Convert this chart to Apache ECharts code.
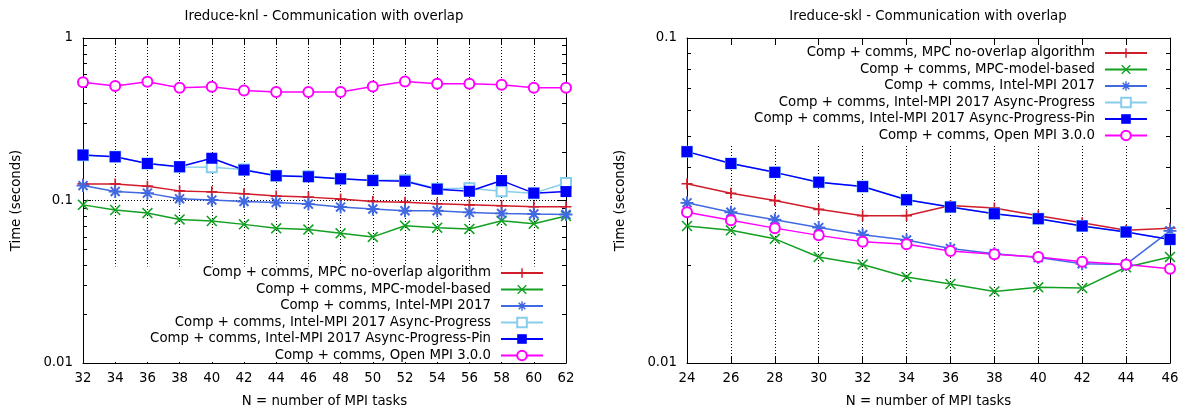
<!DOCTYPE html>
<html>
<head>
<meta charset="utf-8">
<script src="https://cdn.jsdelivr.net/npm/echarts@6/dist/echarts.min.js"></script>
<style>
  html, body { margin: 0; padding: 0; background: #fff; }
  #chart { width: 1199px; height: 413px; }
</style>
</head>
<body>
<div id="chart"></div>
<script>
// knl data (left)
const knlN = [32, 34, 36, 38, 40, 42, 44, 46, 48, 50, 52, 54, 56, 58, 60, 62];
const knlNoOverlap = [0.1265, 0.1265, 0.1225, 0.1146, 0.113, 0.110, 0.1064, 0.1049, 0.102, 0.0987, 0.0977, 0.0955, 0.094, 0.0928, 0.0915, 0.0915];
const knlModel = [0.094, 0.0874, 0.0837, 0.0765, 0.0748, 0.0713, 0.0674, 0.0662, 0.0628, 0.0597, 0.070, 0.068, 0.0668, 0.0751, 0.072, 0.0803];
const knlIntel = [0.1235, 0.1135, 0.111, 0.1024, 0.1006, 0.0986, 0.0972, 0.095, 0.0911, 0.0886, 0.0865, 0.0865, 0.0845, 0.0833, 0.0826, 0.0821];
const knlAsync = [0.19, 0.186, 0.169, 0.161, 0.160, 0.155, 0.142, 0.141, 0.136, 0.133, 0.133, 0.118, 0.119, 0.114, 0.111, 0.128];
const knlAsyncPin = [0.1905, 0.186, 0.169, 0.1615, 0.182, 0.154, 0.142, 0.140, 0.136, 0.1326, 0.1315, 0.1174, 0.114, 0.1326, 0.111, 0.1135];
const knlOpenMpi = [0.535, 0.506, 0.538, 0.494, 0.501, 0.476, 0.465, 0.465, 0.465, 0.503, 0.540, 0.523, 0.523, 0.515, 0.494, 0.494];

// skl data (right)
const sklN = [24, 26, 28, 30, 32, 34, 36, 38, 40, 42, 44, 46];
const sklNoOverlap = [0.0356, 0.0333, 0.0316, 0.0297, 0.0284, 0.0284, 0.0305, 0.030, 0.0284, 0.027, 0.0256, 0.026];
const sklModel = [0.0264, 0.0256, 0.0241, 0.0212, 0.0201, 0.0184, 0.0175, 0.0166, 0.0171, 0.017, 0.0197, 0.0212];
const sklIntel = [0.0311, 0.0291, 0.0276, 0.0261, 0.0248, 0.0239, 0.0225, 0.0217, 0.0211, 0.0202, 0.0201, 0.0255];
const sklAsync = [0.0447, 0.0411, 0.0386, 0.036, 0.0349, 0.0318, 0.0302, 0.0288, 0.0278, 0.0264, 0.0253, 0.024];
const sklAsyncPin = [0.0447, 0.0411, 0.0386, 0.036, 0.0349, 0.0318, 0.0302, 0.0288, 0.0278, 0.0264, 0.0253, 0.024];
const sklOpenMpi = [0.0291, 0.0275, 0.026, 0.0247, 0.0236, 0.0232, 0.0221, 0.0216, 0.0212, 0.0205, 0.0201, 0.0195];

// log minor tick values
const knlMinor = [0.02, 0.03, 0.04, 0.05, 0.06, 0.07, 0.08, 0.09, 0.2, 0.3, 0.4, 0.5, 0.6, 0.7, 0.8, 0.9];
const sklMinor = [0.02, 0.03, 0.04, 0.05, 0.06, 0.07, 0.08, 0.09];

const names = [
  'Comp + comms, MPC no-overlap algorithm',
  'Comp + comms, MPC-model-based',
  'Comp + comms, Intel-MPI 2017',
  'Comp + comms, Intel-MPI 2017 Async-Progress',
  'Comp + comms, Intel-MPI 2017 Async-Progress-Pin',
  'Comp + comms, Open MPI 3.0.0'
];
const colors = ['#d01c2b', '#12a023', '#4169e1', '#87ceeb', '#0000ff', '#ff00ff'];

const FONT = 'DejaVu Sans';
const FS = 13.3;
const PLUS = 'path://M8.5,0H11.5V8.5H20V11.5H11.5V20H8.5V11.5H0V8.5H8.5Z';
const CROSS = 'path://M0,2L2,0L10,8L18,0L20,2L12,10L20,18L18,20L10,12L2,20L0,18L8,10Z';
const STAR = 'path://M8.5,0H11.5V8.5H20V11.5H11.5V20H8.5V11.5H0V8.5H8.5Z M2,4.2L4.2,2L10,7.8L15.8,2L18,4.2L12.2,10L18,15.8L15.8,18L10,12.2L4.2,18L2,15.8L7.8,10Z';
const symbols = [PLUS, CROSS, STAR, 'emptyRect', 'rect', 'emptyCircle'];
const sizes = [11, 11, 13, 10, 11, 10];

const chart = echarts.init(document.getElementById('chart'));

const pairs = (xs, ys) => xs.map((x, i) => [x, ys[i]]);

const makeSeries = (idx, xs, lists) => lists.map((ys, i) => ({
  name: names[i],
  type: 'line',
  xAxisIndex: idx * 2,
  yAxisIndex: idx * 2,
  data: pairs(xs, ys),
  symbol: symbols[i],
  symbolSize: sizes[i],
  showSymbol: true,
  lineStyle: { color: colors[i], width: 1.5 },
  itemStyle: { color: colors[i], borderColor: colors[i], borderWidth: i === 3 || i === 5 ? 1.5 : 0 },
  emphasis: { disabled: true },
  animation: false
}));

const minorTicks = (params, api) => {
  const cs = params.coordSys;
  const y = Math.round(api.coord([api.value(0), api.value(1)])[1]) + 0.5;
  const st = { stroke: '#000', lineWidth: 1 };
  return {
    type: 'group',
    children: [
      { type: 'line', shape: { x1: cs.x, y1: y, x2: cs.x + 4, y2: y }, style: st },
      { type: 'line', shape: { x1: cs.x + cs.width - 4, y1: y, x2: cs.x + cs.width, y2: y }, style: st }
    ]
  };
};

const txt = { fontFamily: FONT, fontSize: FS, color: '#000' };

const xAxes = (grid, min, max) => [{
  type: 'value', gridIndex: grid, min: min, max: max, interval: 2, position: 'bottom',
  name: 'N = number of MPI tasks', nameLocation: 'middle', nameGap: 32,
  nameTextStyle: txt,
  axisLine: { show: true, lineStyle: { color: '#000', width: 1 } },
  axisTick: { show: true, inside: true, length: 6, lineStyle: { color: '#000' } },
  axisLabel: Object.assign({ margin: 9 }, txt),
  splitLine: { show: true, lineStyle: { color: '#000', width: 1, type: [1, 2] } }
}, {
  type: 'value', gridIndex: grid, min: min, max: max, interval: 2, position: 'top',
  axisLine: { show: true, lineStyle: { color: '#000', width: 1 } },
  axisTick: { show: true, inside: true, length: 6, lineStyle: { color: '#000' } },
  axisLabel: { show: false },
  splitLine: { show: false }
}];

const yAxes = (grid, min, max) => [{
  type: 'log', logBase: 10, gridIndex: grid, min: min, max: max, position: 'left',
  name: 'Time (seconds)', nameLocation: 'middle', nameGap: 60, nameRotate: 90,
  nameTextStyle: txt,
  axisLine: { show: true, lineStyle: { color: '#000', width: 1 } },
  axisTick: { show: true, inside: true, length: 8, lineStyle: { color: '#000' } },
  axisLabel: Object.assign({ margin: 10 }, txt),
  splitLine: { show: true, lineStyle: { color: '#000', width: 1, type: [1, 2] } }
}, {
  type: 'log', logBase: 10, gridIndex: grid, min: min, max: max, position: 'right',
  axisLine: { show: true, lineStyle: { color: '#000', width: 1 } },
  axisTick: { show: true, inside: true, length: 8, lineStyle: { color: '#000' } },
  axisLabel: { show: false },
  splitLine: { show: false }
}];

const legendStyle = {
  orient: 'vertical',
  align: 'right',
  itemWidth: 42,
  itemHeight: 12,
  itemGap: 3.5,
  backgroundColor: '#fff',
  selectedMode: false,
  data: names,
  formatter: '{t|{name}}',
  textStyle: {
    fontFamily: FONT, fontSize: FS, color: '#000',
    rich: { t: { width: 345, align: 'right', padding: [0, 5, 0, 0], fontFamily: FONT, fontSize: FS, color: '#000' } }
  }
};

const option = {
  backgroundColor: '#fff',
  animation: false,
  textStyle: { fontFamily: FONT },
  title: [
    { text: 'Ireduce-knl - Communication with overlap', left: 324, top: 10, padding: 0, textAlign: 'center',
      textStyle: Object.assign({ fontWeight: 'normal' }, txt) },
    { text: 'Ireduce-skl - Communication with overlap', left: 928, top: 10, padding: 0, textAlign: 'center',
      textStyle: Object.assign({ fontWeight: 'normal' }, txt) }
  ],
  grid: [
    { left: 83, right: 633, top: 38, bottom: 48 },
    { left: 687, right: 29, top: 38, bottom: 48 }
  ],
  xAxis: [...xAxes(0, 32, 62), ...xAxes(1, 24, 46)],
  yAxis: [...yAxes(0, 0.01, 1), ...yAxes(1, 0.01, 0.1)],
  legend: [
    Object.assign({}, legendStyle, { right: 647, top: 266.5, padding: [0, 8, 0, 38] }),
    Object.assign({}, legendStyle, { right: 44, top: 46.5, padding: [0, 7, 2, 35] })
  ],
  series: [
    { type: 'custom', xAxisIndex: 0, yAxisIndex: 0, renderItem: minorTicks, silent: true,
      data: knlMinor.map(v => [knlN[0], v]) },
    { type: 'custom', xAxisIndex: 2, yAxisIndex: 2, renderItem: minorTicks, silent: true,
      data: sklMinor.map(v => [sklN[0], v]) },
    ...makeSeries(0, knlN, [knlNoOverlap, knlModel, knlIntel, knlAsync, knlAsyncPin, knlOpenMpi]),
    ...makeSeries(1, sklN, [sklNoOverlap, sklModel, sklIntel, sklAsync, sklAsyncPin, sklOpenMpi])
  ]
};

chart.setOption(option);
</script>
</body>
</html>
